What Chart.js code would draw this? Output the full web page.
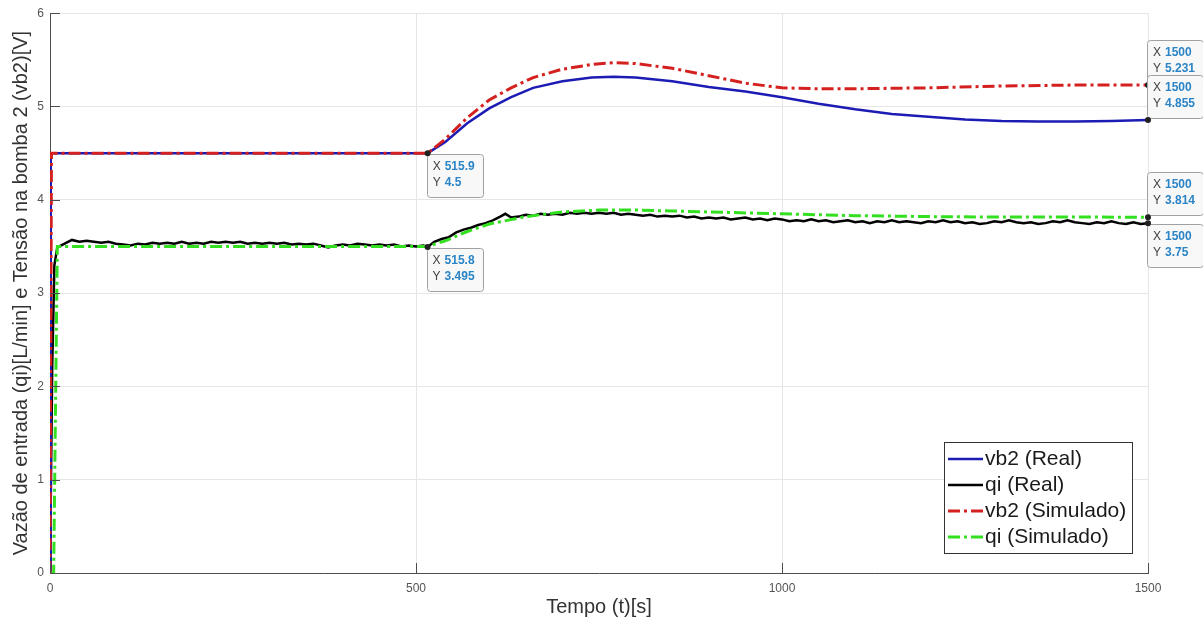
<!DOCTYPE html>
<html>
<head>
<meta charset="utf-8">
<script src="https://cdn.jsdelivr.net/npm/chart.js@4.4.0/dist/chart.umd.min.js"></script>
<style>
body { margin: 0; background: #fff; }
#plot { display: block; }
</style>
</head>
<body>
<canvas id="plot" width="1203" height="621"></canvas>
<script>
// vb2 (Real)
const tVbReal = [0, 1, 515.9, 540, 570, 600, 630, 660, 700, 740, 770, 800, 850, 900, 950, 1000, 1050, 1100, 1150, 1200, 1250, 1300, 1350, 1400, 1450, 1500];
const vbReal = [0, 4.5, 4.5, 4.62, 4.82, 4.98, 5.1, 5.2, 5.27, 5.31, 5.32, 5.31, 5.27, 5.21, 5.16, 5.1, 5.03, 4.97, 4.92, 4.89, 4.86, 4.845, 4.84, 4.84, 4.845, 4.855];

// vb2 (Simulado)
const tVbSim = [0, 2, 515.9, 540, 570, 600, 630, 660, 700, 740, 770, 800, 850, 900, 950, 1000, 1050, 1100, 1200, 1300, 1400, 1500];
const vbSim = [0, 4.5, 4.5, 4.65, 4.88, 5.07, 5.2, 5.31, 5.4, 5.45, 5.47, 5.46, 5.41, 5.33, 5.25, 5.2, 5.19, 5.19, 5.2, 5.22, 5.23, 5.231];

// qi (Real)
const tQiReal = [0, 3, 6, 10, 20, 30, 40, 50, 60, 70, 80, 90, 100, 110, 120, 130, 140, 150, 160, 170, 180, 190,
  200, 210, 220, 230, 240, 250, 260, 270, 280, 290, 300, 310, 320, 330, 340, 350, 360, 370, 380, 390,
  400, 410, 420, 430, 440, 450, 460, 470, 480, 490, 500, 510, 515.8, 525, 535, 545, 555, 565, 575, 585, 595,
  605, 615, 622, 630, 640, 650, 660, 670, 680, 690, 700, 710, 720, 730, 740, 750, 760, 770, 780, 790,
  800, 810, 820, 830, 840, 850, 860, 870, 880, 890, 900, 910, 920, 930, 940, 950, 960, 970, 980, 990,
  1000, 1010, 1020, 1030, 1040, 1050, 1060, 1070, 1080, 1090, 1100, 1110, 1120, 1130, 1140, 1150, 1160, 1170, 1180, 1190,
  1200, 1210, 1220, 1230, 1240, 1250, 1260, 1270, 1280, 1290, 1300, 1310, 1320, 1330, 1340, 1350, 1360, 1370, 1380, 1390,
  1400, 1410, 1420, 1430, 1440, 1450, 1460, 1470, 1480, 1490, 1500];
const qiReal = [0, 2.2, 3.3, 3.49, 3.53, 3.57, 3.55, 3.56, 3.55, 3.54, 3.55, 3.53, 3.52, 3.51, 3.53, 3.52, 3.54, 3.53, 3.54, 3.53, 3.55, 3.53,
  3.54, 3.53, 3.55, 3.54, 3.55, 3.54, 3.55, 3.53, 3.54, 3.53, 3.54, 3.53, 3.54, 3.52, 3.53, 3.52, 3.53, 3.51, 3.49, 3.51,
  3.52, 3.51, 3.53, 3.52, 3.51, 3.52, 3.51, 3.52, 3.50, 3.51, 3.50, 3.51, 3.495, 3.55, 3.58, 3.60, 3.65, 3.68, 3.70, 3.73, 3.75,
  3.78, 3.82, 3.85, 3.81, 3.82, 3.84, 3.83, 3.85, 3.84, 3.85, 3.84, 3.86, 3.85, 3.86, 3.85, 3.86, 3.85, 3.86, 3.84, 3.85,
  3.84, 3.83, 3.84, 3.82, 3.83, 3.82, 3.83, 3.81, 3.82, 3.80, 3.81, 3.80, 3.81, 3.79, 3.80, 3.81, 3.79, 3.80, 3.78, 3.80,
  3.79, 3.77, 3.78, 3.77, 3.79, 3.77, 3.78, 3.76, 3.77, 3.78, 3.76, 3.77, 3.75, 3.77, 3.76, 3.78, 3.76, 3.77, 3.76, 3.75,
  3.77, 3.76, 3.78, 3.76, 3.77, 3.75, 3.76, 3.74, 3.75, 3.77, 3.76, 3.78, 3.76, 3.75, 3.76, 3.74, 3.75, 3.77, 3.76, 3.78,
  3.76, 3.75, 3.74, 3.76, 3.75, 3.77, 3.75, 3.74, 3.76, 3.74, 3.75];

// qi (Simulado)
const tQiSim = [0, 5, 10, 515.8, 540, 570, 600, 650, 700, 750, 800, 850, 900, 1000, 1100, 1200, 1300, 1500];
const qiSim = [0, 0, 3.5, 3.5, 3.56, 3.66, 3.74, 3.82, 3.87, 3.89, 3.89, 3.88, 3.87, 3.85, 3.83, 3.82, 3.815, 3.814];

// datatips
const tipX = [515.9, 515.8, 1500, 1500, 1500, 1500];
const tipY = [4.5, 3.495, 5.231, 4.855, 3.814, 3.75];

const seriesNames = ['vb2 (Real)', 'qi (Real)', 'vb2 (Simulado)', 'qi (Simulado)'];

function pts(xs, ys) {
    return xs.map((x, i) => ({ x: x, y: ys[i] }));
}

const dashDot = [12, 4, 3, 4];
const axisColor = '#4d4d4d';
const fontFam = '"Liberation Sans", Arial, sans-serif';

const matlabExtras = {
    id: 'matlabExtras',
    afterDatasetsDraw(chart) {
        const ctx = chart.ctx;
        const area = chart.chartArea;
        const xs = chart.scales.x, ys = chart.scales.y;
        ctx.save();
        // inward tick marks
        ctx.strokeStyle = axisColor;
        ctx.lineWidth = 1;
        ctx.setLineDash([]);
        xs.ticks.forEach(t => {
            const px = Math.round(xs.getPixelForValue(t.value)) + 0.5;
            ctx.beginPath();
            ctx.moveTo(px, area.bottom);
            ctx.lineTo(px, area.bottom - 10);
            ctx.stroke();
        });
        ys.ticks.forEach(t => {
            const py = Math.round(ys.getPixelForValue(t.value)) + 0.5;
            ctx.beginPath();
            ctx.moveTo(area.left, py);
            ctx.lineTo(area.left + 10, py);
            ctx.stroke();
        });

        // datatips
        const place = ['below', 'below', 'above', 'above', 'above', 'below'];
        const bw = 56, bh = 43;
        for (let i = 0; i < tipX.length; i++) {
            const px = xs.getPixelForValue(tipX[i]);
            const py = ys.getPixelForValue(tipY[i]);
            const bx = px - 1;
            const by = place[i] === 'below' ? py + 1 : py - 2 - bh;
            ctx.fillStyle = 'rgba(248,248,248,0.97)';
            ctx.strokeStyle = '#a0a0a0';
            ctx.lineWidth = 1;
            ctx.beginPath();
            ctx.roundRect(Math.round(bx) + 0.5, Math.round(by) + 0.5, bw, bh, 3);
            ctx.fill();
            ctx.stroke();
            ctx.textBaseline = 'middle';
            ctx.textAlign = 'left';
            ctx.font = '12px ' + fontFam;
            ctx.fillStyle = '#404040';
            ctx.fillText('X', bx + 6, by + 13);
            ctx.fillText('Y', bx + 6, by + 29);
            ctx.font = 'bold 12px ' + fontFam;
            ctx.fillStyle = '#2a84c6';
            ctx.fillText(String(tipX[i]), bx + 18, by + 13);
            ctx.fillText(String(tipY[i]), bx + 18, by + 29);
            ctx.fillStyle = '#202020';
            ctx.beginPath();
            ctx.arc(px, py, 3, 0, Math.PI * 2);
            ctx.fill();
        }

        // legend box in lower right
        const lw = 188, lh = 111;
        const lx = area.right - 16 - lw, ly = area.bottom - 20 - lh;
        ctx.fillStyle = '#ffffff';
        ctx.strokeStyle = '#333333';
        ctx.lineWidth = 1;
        ctx.fillRect(lx, ly, lw, lh);
        ctx.strokeRect(Math.round(lx) + 0.5, Math.round(ly) + 0.5, lw, lh);
        ctx.font = '21px ' + fontFam;
        ctx.textBaseline = 'middle';
        chart.data.datasets.forEach((ds, i) => {
            const cy = ly + 17 + i * 26;
            ctx.strokeStyle = ds.borderColor;
            ctx.lineWidth = ds.borderWidth;
            ctx.setLineDash(ds.borderDash || []);
            ctx.beginPath();
            ctx.moveTo(lx + 4, cy);
            ctx.lineTo(lx + 39, cy);
            ctx.stroke();
            ctx.setLineDash([]);
            ctx.fillStyle = '#1a1a1a';
            ctx.fillText(ds.label, lx + 41, cy);
        });
        ctx.restore();
    }
};

new Chart(document.getElementById('plot'), {
    type: 'line',
    data: {
        datasets: [
            { label: seriesNames[0], data: pts(tVbReal, vbReal), borderColor: '#1c1cb4', borderWidth: 2.5, order: 2 },
            { label: seriesNames[1], data: pts(tQiReal, qiReal), borderColor: '#000000', borderWidth: 2.5, order: 2 },
            { label: seriesNames[2], data: pts(tVbSim, vbSim), borderColor: '#d52020', borderWidth: 3, borderDash: dashDot, order: 1 },
            { label: seriesNames[3], data: pts(tQiSim, qiSim), borderColor: '#33e020', borderWidth: 3, borderDash: dashDot, order: 1 }
        ]
    },
    options: {
        responsive: false,
        animation: false,
        layout: { padding: { top: 12, right: 55, left: 0, bottom: 0 } },
        elements: { point: { radius: 0 }, line: { tension: 0 } },
        plugins: { legend: { display: false }, tooltip: { enabled: false } },
        scales: {
            x: {
                type: 'linear', min: 0, max: 1500,
                afterFit(scale) { scale.height = 48; },
                ticks: { stepSize: 500, padding: 8, color: '#555', font: { family: fontFam, size: 12 }, callback: v => String(v) },
                grid: { color: '#e6e6e6', drawTicks: false },
                border: { color: axisColor, width: 1 },
                title: { display: true, text: 'Tempo (t)[s]', color: '#333', padding: { top: 0, bottom: 2 }, font: { family: fontFam, size: 20 } }
            },
            y: {
                min: 0, max: 6,
                afterFit(scale) { scale.width = 50; },
                ticks: { stepSize: 1, padding: 6, color: '#555', font: { family: fontFam, size: 12 }, callback: v => String(v) },
                grid: { color: '#e6e6e6', drawTicks: false },
                border: { color: axisColor, width: 1 },
                title: { display: true, text: 'Vazão de entrada (qi)[L/min] e Tensão na bomba 2 (vb2)[V]', color: '#333', padding: { top: 9, bottom: 0 }, font: { family: fontFam, size: 20 } }
            }
        }
    },
    plugins: [matlabExtras]
});
</script>
</body>
</html>
